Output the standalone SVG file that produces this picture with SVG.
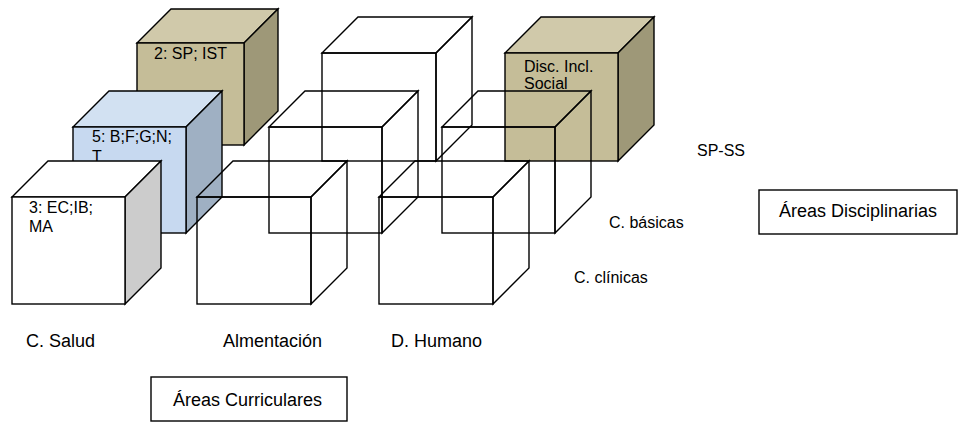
<svg xmlns="http://www.w3.org/2000/svg" width="958" height="422" viewBox="0 0 958 422">
  <style>
    .edge { stroke: #000; stroke-width: 1.4; stroke-linejoin: miter; }
    .wire { fill: none; }
    .lbl { font-family: "Liberation Sans", Arial, sans-serif; font-size: 16px; fill: #000; }
    .big { font-family: "Liberation Sans", Arial, sans-serif; font-size: 18px; fill: #000; }
    .tanTop { fill: #d0c9aa; } .tanFront { fill: #c5bd98; } .tanSide { fill: #9e9878; }
    .bluTop { fill: #d2e1f2; } .bluFront { fill: #c7d9f0; } .bluSide { fill: #9fb0c3; }
    .whtTop { fill: #ffffff; } .whtFront { fill: #ffffff; } .whtSide { fill: #cccccc; }
    .box { fill: #fff; stroke: #000; stroke-width: 1.4; }
  </style>

  <!-- solid cube: 2: SP; IST -->
  <g id="cube-sp-ist">
    <polygon class="edge tanTop" points="137,43 171,9 278,9 244,43"/>
    <polygon class="edge tanSide" points="244,43 278,9 278,111 244,145"/>
    <rect class="edge tanFront" x="137" y="43" width="107" height="102"/>
    <text class="lbl" x="154" y="59">2: SP; IST</text>
  </g>

  <!-- solid cube: 5: B;F;G;N;T -->
  <g id="cube-bfgnt">
    <polygon class="edge bluTop" points="73,127 109,91 222,91 186,127"/>
    <polygon class="edge bluSide" points="186,127 222,91 222,197 186,233"/>
    <rect class="edge bluFront" x="73" y="127" width="113" height="106"/>
    <text class="lbl" x="92" y="142">5: B;F;G;N;</text>
    <text class="lbl" x="92" y="162">T</text>
  </g>

  <!-- solid cube: 3: EC;IB;MA -->
  <g id="cube-ec-ib-ma">
    <polygon class="edge whtTop" points="12,197 48,161 161,161 125,197"/>
    <polygon class="edge whtSide" points="125,197 161,161 161,268 125,304"/>
    <rect class="edge whtFront" x="12" y="197" width="113" height="107"/>
    <text class="lbl" x="29" y="213">3: EC;IB;</text>
    <text class="lbl" x="29" y="232">MA</text>
  </g>

  <!-- solid cube: Disc. Incl. Social -->
  <g id="cube-disc-incl">
    <polygon class="edge tanTop" points="505,53 541,17 654,17 618,53"/>
    <polygon class="edge tanSide" points="618,53 654,17 654,125 618,161"/>
    <rect class="edge tanFront" x="505" y="53" width="113" height="108"/>
    <text class="lbl" x="524" y="72">Disc. Incl.</text>
    <text class="lbl" x="524" y="89">Social</text>
  </g>

  <!-- open wireframe cubes -->
  <g id="cube-back-mid">
    <polygon class="edge wire" points="322,53 358,17 472,17 436,53"/>
    <polygon class="edge wire" points="436,53 472,17 472,125 436,161"/>
    <rect class="edge wire" x="322" y="53" width="114" height="108"/>
  </g>
  <g id="cube-mid-left">
    <polygon class="edge wire" points="269,127 305,91 418,91 382,127"/>
    <polygon class="edge wire" points="382,127 418,91 418,197 382,233"/>
    <rect class="edge wire" x="269" y="127" width="113" height="106"/>
  </g>
  <g id="cube-mid-right">
    <polygon class="edge wire" points="442,127 478,91 591,91 555,127"/>
    <polygon class="edge wire" points="555,127 591,91 591,197 555,233"/>
    <rect class="edge wire" x="442" y="127" width="113" height="106"/>
  </g>
  <g id="cube-alimentacion">
    <polygon class="edge wire" points="197,197 233,161 347,161 311,197"/>
    <polygon class="edge wire" points="311,197 347,161 347,268 311,304"/>
    <rect class="edge wire" x="197" y="197" width="114" height="107"/>
  </g>
  <g id="cube-humano">
    <polygon class="edge wire" points="379,197 415,161 529,161 493,197"/>
    <polygon class="edge wire" points="493,197 529,161 529,268 493,304"/>
    <rect class="edge wire" x="379" y="197" width="114" height="107"/>
  </g>

  <!-- axis labels -->
  <g id="axis-labels">
    <text class="lbl" x="697" y="156">SP-SS</text>
    <text class="lbl" x="609" y="228">C. básicas</text>
    <text class="lbl" x="574" y="283">C. clínicas</text>
    <text class="big" x="26" y="347">C. Salud</text>
    <text class="big" x="223" y="347">Almentación</text>
    <text class="big" x="391" y="347">D. Humano</text>
  </g>

  <g id="box-disciplinarias">
    <rect class="box" x="759" y="190" width="198" height="44"/>
    <text class="big" x="779" y="217">Áreas Disciplinarias</text>
  </g>

  <g id="box-curriculares">
    <rect class="box" x="151" y="377" width="196" height="44"/>
    <text class="big" x="173" y="406">Áreas Curriculares</text>
  </g>

  <g id="connectors"/>
</svg>
